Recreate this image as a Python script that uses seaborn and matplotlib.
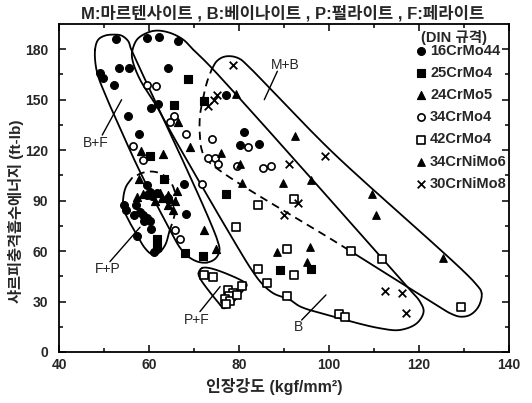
import numpy as np
import matplotlib
matplotlib.use("Agg")
import matplotlib.pyplot as plt
import seaborn as sns

# ---------------- data ----------------
c16_x = [52.7, 59.6, 62.3, 66.5, 49.1, 49.7, 53.4, 55.6, 64.3, 52.1, 55.4, 60.4, 62.0, 57.8, 67.8, 68.3,
         77.0, 81.2, 80.2, 84.5, 59.6, 60.1, 61.8, 59.5, 60.6, 64.1, 54.5, 54.9, 57.1, 56.7, 58.0, 58.7,
         59.6, 60.2, 58.9, 60.4, 57.4, 61.2]
c16_y = [186.3, 186.7, 187.0, 184.7, 166.0, 163.0, 169.0, 169.0, 169.0, 159.0, 140.6, 145.0, 147.5, 129.6,
         100.0, 81.8, 153.0, 130.5, 123.0, 123.6, 99.4, 95.4, 94.4, 93.5, 92.7, 91.5, 87.5, 84.5, 87.5,
         81.5, 83.5, 81.5, 79.6, 77.6, 77.6, 73.0, 68.7, 59.7]

c25_x = [68.7, 65.6, 60.1, 63.3, 72.1, 77.1, 61.7, 61.7, 68.0, 72.0, 89.0, 96.0]
c25_y = [162.5, 146.6, 116.7, 102.8, 149.0, 94.2, 67.0, 62.7, 59.1, 57.3, 48.5, 49.5]

c24_x = [66.5, 58.2, 63.2, 69.0, 66.2, 57.8, 57.4, 58.6, 61.3, 62.4, 62.8, 64.3, 64.7, 64.3, 65.8, 65.4, 72.2, 74.9]
c24_y = [137.0, 119.6, 117.6, 121.6, 96.0, 102.8, 92.0, 94.0, 89.5, 94.8, 91.5, 93.5, 90.9, 87.5, 89.5, 84.5, 72.6, 61.5]

c34_x = [59.6, 61.5, 65.6, 64.7, 68.2, 56.4, 58.6, 71.7, 73.9, 81.9, 73.2, 74.7, 75.4, 79.5, 85.3, 87.1, 65.8, 66.9]
c34_y = [159.0, 158.0, 140.6, 136.7, 129.8, 122.6, 114.0, 99.8, 126.6, 122.0, 115.3, 115.6, 112.0, 110.3, 109.3, 110.3, 72.4, 67.1]

c42_x = [84.2, 92.1, 79.3, 90.7, 104.8, 111.7, 84.2, 92.1, 86.1, 90.6, 102.1, 103.6, 129.3,
         72.1, 74.3, 80.6, 77.5, 78.7, 77.8, 76.9, 78.0, 77.1, 79.5]
c42_y = [87.2, 90.9, 74.1, 61.1, 60.3, 55.4, 49.5, 45.8, 41.1, 33.3, 22.6, 21.0, 27.0,
         45.8, 44.4, 39.3, 36.9, 35.3, 33.3, 31.3, 30.4, 28.6, 33.9]

c346_x = [79.3, 76.0, 80.3, 80.6, 89.8, 92.4, 96.0, 109.5, 110.4, 125.4, 88.5, 95.7, 95.1]
c346_y = [153.4, 118.6, 111.5, 100.2, 100.4, 128.6, 102.4, 94.0, 81.5, 56.0, 59.7, 62.5, 53.5]

c308_x = [78.7, 75.2, 74.4, 73.2, 99.0, 91.0, 93.2, 90.0, 112.4, 116.1, 117.0]
c308_y = [170.8, 153.0, 150.0, 146.0, 116.3, 112.0, 88.5, 81.2, 36.5, 35.3, 23.0]

series_names = ["16CrMo44", "25CrMo4", "24CrMo5", "34CrMo4", "42CrMo4", "34CrNiMo6", "30CrNiMo8"]

# region outlines (annotation curves)
bf_x = [48.0, 48.7, 50.2, 52.1, 53.9, 55.4, 55.9, 56.9, 75.4, 75.6, 74.7, 72.9, 70.9, 68.7, 66.9, 65.1, 58.0, 54.7, 50.6, 48.4]
bf_y = [179.8, 185.7, 188.1, 188.7, 188.1, 184.7, 180.8, 174.8, 64.7, 59.7, 55.4, 53.2, 53.6, 56.7, 61.9, 70.2, 107.1, 126.2, 151.0, 166.7]

b_x = [56.2, 57.3, 59.5, 61.7, 64.7, 67.6, 69.8, 73.6, 117.3, 120.2, 121.0, 119.5, 115.8, 111.3, 101.0, 93.6,
       91.3, 87.6, 85.0, 82.8, 78.7, 65.8, 61.7, 58.0, 56.4]
b_y = [177.8, 185.7, 189.7, 191.1, 189.7, 185.7, 179.8, 169.8, 38.9, 29.9, 24.0, 17.1, 13.1, 14.1, 21.0, 27.0,
       31.0, 34.9, 40.9, 48.8, 66.7, 126.2, 146.0, 161.9, 172.6]

mb_solid_x = [73.9, 75.0, 76.5, 78.4, 80.2, 81.7, 100.2, 132.8, 133.9, 133.2, 131.3, 129.1, 126.9, 125.0, 104.3]
mb_solid_y = [167.9, 172.8, 175.4, 175.8, 174.2, 170.8, 120.2, 39.9, 34.9, 27.0, 22.0, 21.0, 23.0, 26.0, 60.7]
m_dash_x = [104.3, 72.8, 71.7, 71.3, 71.3, 72.1, 72.9, 73.9]
m_dash_y = [60.7, 114.3, 120.2, 128.2, 140.1, 152.0, 160.7, 167.9]

fp_solid_x = [56.2, 54.9, 54.3, 54.3, 55.4, 57.3, 59.1, 60.6, 62.1, 63.6, 64.5]
fp_solid_y = [103.4, 98.4, 92.4, 85.5, 78.6, 69.6, 61.7, 58.2, 58.8, 63.7, 71.6]
fp_dash_x = [64.5, 65.4, 66.0, 65.8, 64.7, 62.8, 60.6, 58.4, 56.2]
fp_dash_y = [71.6, 78.6, 86.5, 94.5, 101.4, 105.8, 107.3, 106.4, 103.4]

pf_x = [71.0, 71.7, 73.6, 81.0, 81.7, 81.0, 77.6, 76.5, 75.8, 71.3]
pf_y = [46.8, 49.8, 49.8, 41.8, 39.9, 36.9, 27.0, 26.0, 28.0, 43.9]

region_labels = ["M+B", "B+F", "F+P", "P+F", "B"]
label_x = [90.3, 48.2, 50.8, 70.6, 93.2]
label_y = [170.5, 124.0, 49.5, 19.0, 15.0]
leader_x0 = [88.5, 49.6, 51.3, 71.3, 93.9]
leader_y0 = [166.9, 129.0, 53.7, 24.0, 19.0]
leader_x1 = [85.6, 53.9, 58.0, 75.8, 99.3]
leader_y1 = [150.0, 150.0, 74.2, 38.9, 33.9]

x_ticks = [40, 60, 80, 100, 120, 140]
y_ticks = [0, 30, 60, 90, 120, 150, 180]

# ---------------- style ----------------
sns.set_theme(style="ticks")
plt.rcParams["font.family"] = ["Liberation Sans", "Noto Sans CJK KR"]
plt.rcParams["font.weight"] = "bold"
plt.rcParams["axes.labelweight"] = "bold"

SX, SY = 4.5, 1.68


def smooth(xs, ys, closed=False, n=16):
    P = np.column_stack([np.asarray(xs, float) * SX, np.asarray(ys, float) * SY])
    if closed:
        P = np.vstack([P[-1], P, P[0], P[1]])
    else:
        P = np.vstack([2 * P[0] - P[1], P, 2 * P[-1] - P[-2]])
    out = []
    for i in range(1, len(P) - 2):
        p0, p1, p2, p3 = P[i - 1], P[i], P[i + 1], P[i + 2]
        t0 = 0.0
        t1 = t0 + max(np.linalg.norm(p1 - p0), 1e-6) ** 0.5
        t2 = t1 + max(np.linalg.norm(p2 - p1), 1e-6) ** 0.5
        t3 = t2 + max(np.linalg.norm(p3 - p2), 1e-6) ** 0.5
        t = np.linspace(t1, t2, n)[:, None]
        A1 = (t1 - t) / (t1 - t0) * p0 + (t - t0) / (t1 - t0) * p1
        A2 = (t2 - t) / (t2 - t1) * p1 + (t - t1) / (t2 - t1) * p2
        A3 = (t3 - t) / (t3 - t2) * p2 + (t - t2) / (t3 - t2) * p3
        B1 = (t2 - t) / (t2 - t0) * A1 + (t - t0) / (t2 - t0) * A2
        B2 = (t3 - t) / (t3 - t1) * A2 + (t - t1) / (t3 - t1) * A3
        out.append((t2 - t) / (t2 - t1) * B1 + (t - t1) / (t2 - t1) * B2)
    C = np.vstack(out)
    if closed:
        C = np.vstack([C, C[:1]])
    return C[:, 0] / SX, C[:, 1] / SY


fig = plt.figure(figsize=(5.32, 4.03), dpi=100)
ax = fig.add_axes([0.111, 0.1266, 0.846, 0.8138])

lw_out = 1.3
dash = (0, (4.5, 3))
for xs, ys, closed, ls in [(bf_x, bf_y, True, "-"), (b_x, b_y, True, "-"), (pf_x, pf_y, True, "-"),
                           (mb_solid_x, mb_solid_y, False, "-"), (m_dash_x, m_dash_y, False, dash),
                           (fp_solid_x, fp_solid_y, False, "-"), (fp_dash_x, fp_dash_y, False, dash)]:
    sx, sy = smooth(xs, ys, closed)
    ax.plot(sx, sy, color="black", lw=lw_out, ls=ls, zorder=2)

for lab, lx, ly, x0, y0, x1, y1 in zip(region_labels, label_x, label_y, leader_x0, leader_y0, leader_x1, leader_y1):
    ax.plot([x0, x1], [y0, y1], color="black", lw=1.0, zorder=2)
    ax.text(lx, ly, lab, fontsize=10, fontweight="normal", ha="center", va="center", zorder=4)

specs = [
    (c16_x, c16_y, "o", "black", 32, 0.8),
    (c25_x, c25_y, "s", "black", 30, 0.8),
    (c24_x, c24_y, "^", "black", 34, 0.8),
    (c34_x, c34_y, "o", "white", 27, 1.2),
    (c42_x, c42_y, "s", "white", 27, 1.2),
    (c346_x, c346_y, "^", "black", 30, 0.8),
    (c308_x, c308_y, "x", "black", 30, 1.3),
]
for (xs, ys, m, fc, s, lw), name in zip(specs, series_names):
    if m == "x":
        sns.scatterplot(x=xs, y=ys, marker=m, color="black", s=s, linewidth=lw, label=name, ax=ax, zorder=3)
    else:
        sns.scatterplot(x=xs, y=ys, marker=m, color=fc, edgecolor="black", s=s, linewidth=lw,
                        label=name, ax=ax, zorder=3)

ax.set_xlim(40, 140)
ax.set_ylim(0, 195)
ax.set_xticks(x_ticks)
ax.set_yticks(y_ticks)
ax.set_xticks(np.arange(50, 140, 20), minor=True)
ax.set_yticks(np.arange(15, 195, 30), minor=True)
ax.tick_params(which="both", direction="in", top=True, right=True, width=1.1, color="black")
ax.tick_params(which="major", length=5)
ax.tick_params(which="minor", length=3)
ax.tick_params(axis="y", labelsize=10, pad=8)
ax.tick_params(axis="x", labelsize=10, pad=4)
for t in ax.get_xticklabels() + ax.get_yticklabels():
    t.set_fontweight("bold")
for sp in ax.spines.values():
    sp.set_linewidth(1.3)
    sp.set_color("black")

ax.set_xlabel("인장강도 (kgf/mm²)", fontsize=11.5, fontweight="bold")
ax.set_ylabel("샤르피충격흡수에너지 (ft-lb)", fontsize=11, fontweight="bold")
ax.xaxis.set_label_coords(0.478, -0.078)
ax.yaxis.set_label_coords(-0.077, 0.43)

fig.text(0.532, 0.968, "M:마르텐사이트 , B:베이나이트 , P:펄라이트 , F:페라이트",
         fontsize=12, fontweight="bold", ha="center", va="center")

ax.text(0.877, 0.958, "(DIN 규격)", transform=ax.transAxes, fontsize=10.5, fontweight="bold",
        ha="center", va="center")
leg = ax.legend(frameon=False, loc="upper right", bbox_to_anchor=(0.995, 0.94),
                borderaxespad=0, borderpad=0.0, handlelength=0.6, handletextpad=0.3,
                labelspacing=0.56, fontsize=10.5)
for t in leg.get_texts():
    t.set_fontweight("bold")

fig.savefig("out.png", dpi=100)
